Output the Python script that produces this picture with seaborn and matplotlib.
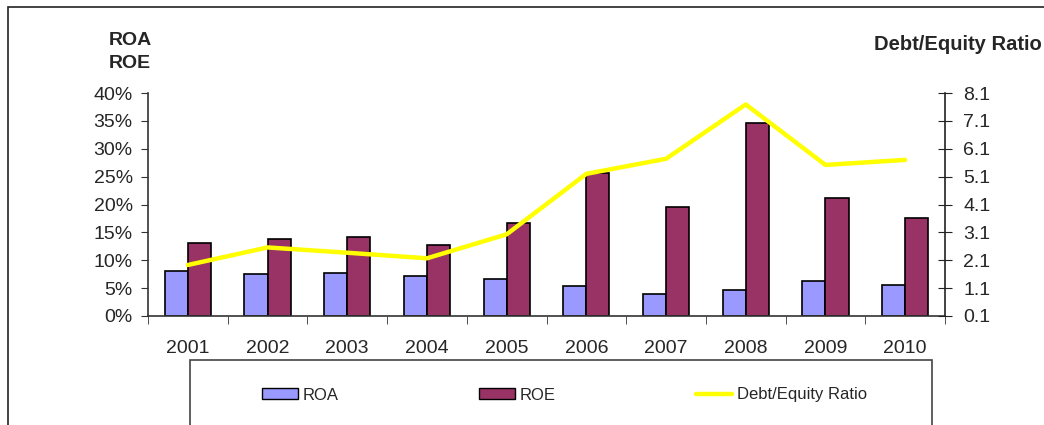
import numpy as np
import pandas as pd
import matplotlib
matplotlib.use("Agg")
import matplotlib.pyplot as plt
import seaborn as sns
from matplotlib.patches import Rectangle, Patch
from matplotlib.lines import Line2D
from matplotlib.ticker import FuncFormatter

# data
years = ["2001", "2002", "2003", "2004", "2005", "2006", "2007", "2008", "2009", "2010"]
roa = [8.0, 7.6, 7.8, 7.2, 6.6, 5.4, 4.0, 4.7, 6.2, 5.6]
roe = [13.1, 13.9, 14.2, 12.8, 16.7, 25.6, 19.6, 34.6, 21.2, 17.5]
debt_equity = [1.93, 2.56, 2.37, 2.17, 3.03, 5.20, 5.74, 7.69, 5.52, 5.70]

sns.set_style("white")
plt.rcParams["font.family"] = ["Liberation Sans", "DejaVu Sans"]

df = pd.DataFrame({"year": years * 2,
                   "value": [v / 100 for v in roa + roe],
                   "metric": ["ROA"] * len(years) + ["ROE"] * len(years)})

fig = plt.figure(figsize=(10.44, 4.25), dpi=100)
ax = fig.add_axes([148 / 1044, 1 - 316 / 425, (945 - 148) / 1044, (316 - 93) / 425])

sns.barplot(data=df, x="year", y="value", hue="metric", order=years,
            palette={"ROA": "#9999FF", "ROE": "#993366"}, width=0.58,
            edgecolor="black", linewidth=1.2, saturation=1, legend=False, ax=ax)

ax.set_ylim(0, 0.40)
ax.set_xlim(-0.5, len(years) - 0.5)
ax.set_yticks(np.arange(0, 0.401, 0.05))
ax.yaxis.set_major_formatter(FuncFormatter(lambda v, p: f"{v * 100:.0f}%"))
ax.set_xlabel("")
ax.set_ylabel("")
ax.set_xticks(range(len(years)))
ax.set_xticklabels(years)
ax.set_xticks(np.arange(-0.5, len(years), 1), minor=True)
ax.tick_params(axis="x", which="major", length=0, pad=17, labelsize=14)
ax.tick_params(axis="x", which="minor", length=6, direction="out", color="#333333", bottom=True)
ax.tick_params(axis="y", length=5, direction="out", color="#333333", left=True, pad=6, labelsize=14)
for s in ["top", "right"]:
    ax.spines[s].set_visible(False)
for s in ["left", "bottom"]:
    ax.spines[s].set_color("#333333")
    ax.spines[s].set_linewidth(1.2)

ax2 = ax.twinx()
sns.lineplot(x=range(len(years)), y=debt_equity, color="#FFFF00", linewidth=3.2, ax=ax2)
ax2.set_ylim(0.1, 8.1)
ax2.set_yticks(np.arange(0.1, 8.11, 1.0))
ax2.yaxis.set_major_formatter(FuncFormatter(lambda v, p: f"{v:.1f}"))
ax2.tick_params(axis="y", length=10, direction="inout", color="#222222", right=True, pad=8, labelsize=14)
for s in ["top", "left", "bottom"]:
    ax2.spines[s].set_visible(False)
ax2.spines["right"].set_color("#222222")
ax2.spines["right"].set_linewidth(1.2)

# axis titles
fig.text(130 / 1044, 1 - 52 / 425, "ROA\nROE", ha="center", va="center",
         fontsize=14, fontweight="bold", linespacing=1.45)
fig.text(1042 / 1044, 1 - 44 / 425, "Debt/Equity Ratio", ha="right", va="center",
         fontsize=14.5, fontweight="bold")

# outer chart border and legend box
fig.patches.append(Rectangle((8 / 1044, -0.1), 1.2, 1 - 7 / 425 + 0.1, transform=fig.transFigure,
                             fill=False, edgecolor="#222222", linewidth=1.2))
fig.patches.append(Rectangle((190 / 1044, -0.1), (932 - 190) / 1044, 1 - 360 / 425 + 0.1,
                             transform=fig.transFigure, fill=False, edgecolor="#444444", linewidth=1.2))

handles = [Patch(facecolor="#9999FF", edgecolor="black", label="ROA"),
           Patch(facecolor="#993366", edgecolor="black", label="ROE"),
           Line2D([], [], color="#FFFF00", linewidth=3.2, label="Debt/Equity Ratio")]
fig.legend(handles=handles, loc="center left", bbox_to_anchor=(262 / 1044, 1 - 395 / 425),
           ncol=3, frameon=False, fontsize=12, handlelength=2.16, handleheight=0.6,
           handletextpad=0.3, columnspacing=8.4, borderpad=0, borderaxespad=0)

fig.savefig("out.png", dpi=100)
